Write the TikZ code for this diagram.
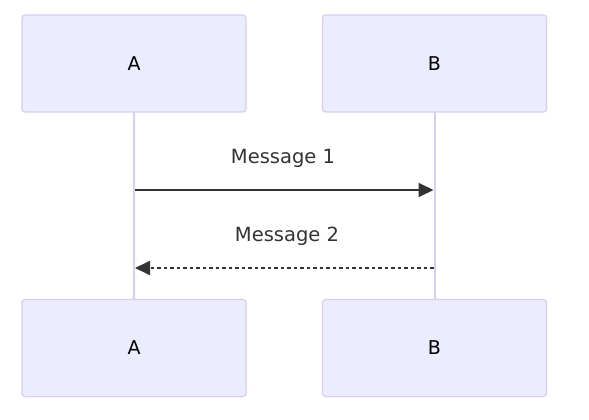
\documentclass[tikz,border=0pt]{standalone}
\usepackage{fontspec}
\setmainfont{DejaVu Sans}
\usetikzlibrary{arrows.meta, positioning}
\definecolor{actorfill}{HTML}{ECECFF}
\definecolor{actorline}{HTML}{D8CEF5}
\definecolor{msgcol}{HTML}{333333}

\begin{document}
\begin{tikzpicture}[
    x=1pt, y=-1pt,
    actor/.style={rectangle, draw=actorline, fill=actorfill, line width=1.2pt, rounded corners=3pt, minimum width=224pt, minimum height=97pt, font=\fontsize{19}{22}\selectfont},
    lifeline/.style={draw=actorline, line width=2pt},
    msg/.style={-{Triangle[length=15pt,width=14pt]}, line width=1.8pt, draw=msgcol},
    reply/.style={msg, dash pattern=on 3.5pt off 3pt},
    msglabel/.style={text=msgcol, font=\fontsize{19.5}{22}\selectfont}
]
    \useasboundingbox (0,0) rectangle (589,420);
    \fill[white] (0,0) rectangle (589,420);

    % lifelines first, boxes on top
    \coordinate (la1) at (134,112);
    \coordinate (la2) at (134,299);
    \coordinate (lb1) at (434.5,112);
    \coordinate (lb2) at (434.5,299);
    \draw[lifeline] (la1) -- (la2);
    \draw[lifeline] (lb1) -- (lb2);

    \node[actor] (atop) at (134,63.5) {A};
    \node[actor] (btop) at (434.5,63.5) {B};
    \node[actor] (abot) at (134,348) {A};
    \node[actor] (bbot) at (434.5,348) {B};

    % messages
    \coordinate (m1s) at (135,190);
    \coordinate (m1e) at (433.5,190);
    \coordinate (m2s) at (433.5,268);
    \coordinate (m2e) at (135,268);
    \draw[msg] (m1s) -- (m1e);
    \draw[reply] (m2s) -- (m2e);
    \node[msglabel] (lab1) at (283,158) {Message 1};
    \node[msglabel] (lab2) at (287,236) {Message 2};
\end{tikzpicture}
\end{document}
